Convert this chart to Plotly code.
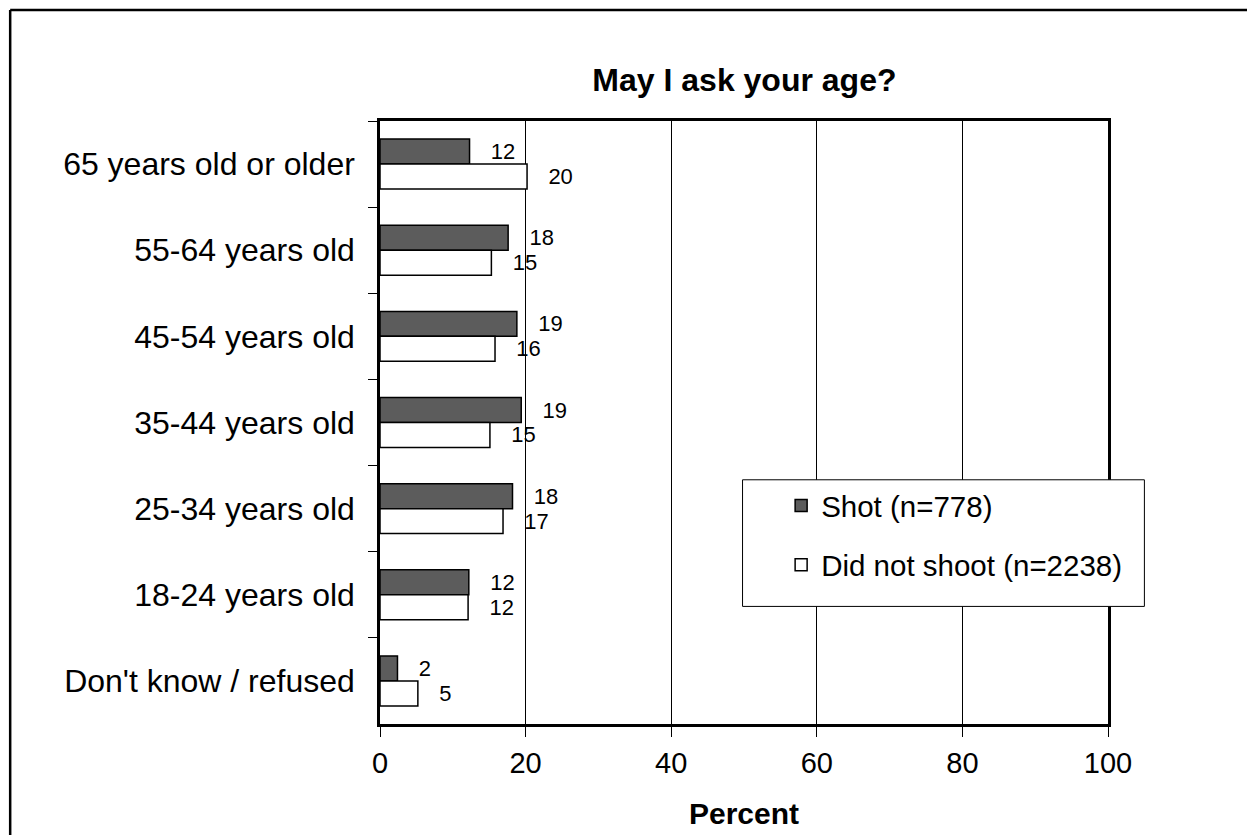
import plotly.graph_objects as go

# categories from top to bottom
categories = [
    "65 years old or older",
    "55-64 years old",
    "45-54 years old",
    "35-44 years old",
    "25-34 years old",
    "18-24 years old",
    "Don't know / refused",
]
shot = [12.3, 17.6, 18.8, 19.4, 18.2, 12.2, 2.4]
did_not_shoot = [20.2, 15.3, 15.8, 15.1, 16.9, 12.1, 5.2]
x_ticks = [0, 20, 40, 60, 80, 100]

FONT = "Arial, Liberation Sans, sans-serif"

fig = go.Figure()
fig.add_trace(go.Bar(
    y=categories, x=shot, orientation="h", name="Shot (n=778)", legendgroup="a",
    marker=dict(color="#5c5c5c", line=dict(color="black", width=1.5)),
    texttemplate="   %{x:.0f}", textposition="outside", cliponaxis=False,
    textfont=dict(size=22, color="black", family=FONT),
))
fig.add_trace(go.Bar(
    y=categories, x=did_not_shoot, orientation="h", name="Did not shoot (n=2238)",
    legendgroup="b",
    marker=dict(color="white", line=dict(color="black", width=1.5)),
    texttemplate="   %{x:.0f}", textposition="outside", cliponaxis=False,
    textfont=dict(size=22, color="black", family=FONT),
))

# outer frame (top and left edge) and legend box
shapes = [
    dict(type="line", xref="paper", yref="paper", x0=-0.508, x1=1.22, y0=1.184, y1=1.184,
         line=dict(color="black", width=2.5)),
    dict(type="line", xref="paper", yref="paper", x0=-0.508, x1=-0.508, y0=1.184, y1=-0.2,
         line=dict(color="black", width=2.5)),
    dict(type="rect", xref="paper", yref="paper", x0=0.498, x1=1.05, y0=0.195, y1=0.405,
         line=dict(color="black", width=1), fillcolor="white", layer="above"),
]

fig.update_layout(
    width=1255, height=835,
    # the page body adds 8px on the left and top
    margin=dict(l=372, r=155, t=113, b=119),
    paper_bgcolor="white", plot_bgcolor="white",
    font=dict(family=FONT, color="black"),
    barmode="group", bargap=0.42, bargroupgap=0,
    title=dict(text="<b>May I ask your age?</b>", x=0.5868, xanchor="center",
               y=0.914, yanchor="middle", font=dict(size=32)),
    showlegend=True,
    legend=dict(x=0.551, y=0.405, xanchor="left", yanchor="top",
                bgcolor="rgba(0,0,0,0)", borderwidth=0,
                font=dict(size=29.5), tracegroupgap=18),
    shapes=shapes,
)
fig.update_xaxes(
    range=[0, 100], tickvals=x_ticks, ticks="outside", ticklen=10, tickcolor="black",
    tickfont=dict(size=29), ticklabelstandoff=1,
    showgrid=True, gridcolor="black", gridwidth=1,
    showline=True, linecolor="black", linewidth=2.5, mirror=True,
    zeroline=False,
    title=dict(text="<b>Percent</b>", font=dict(size=30), standoff=26),
)
fig.update_yaxes(
    categoryorder="array", categoryarray=categories, autorange="reversed",
    ticks="outside", tickson="boundaries", ticklen=9, tickcolor="black",
    tickfont=dict(size=32), ticklabelstandoff=16,
    showline=True, linecolor="black", linewidth=2.5, mirror=True,
    showgrid=False,
)

fig.write_html("out.html")
